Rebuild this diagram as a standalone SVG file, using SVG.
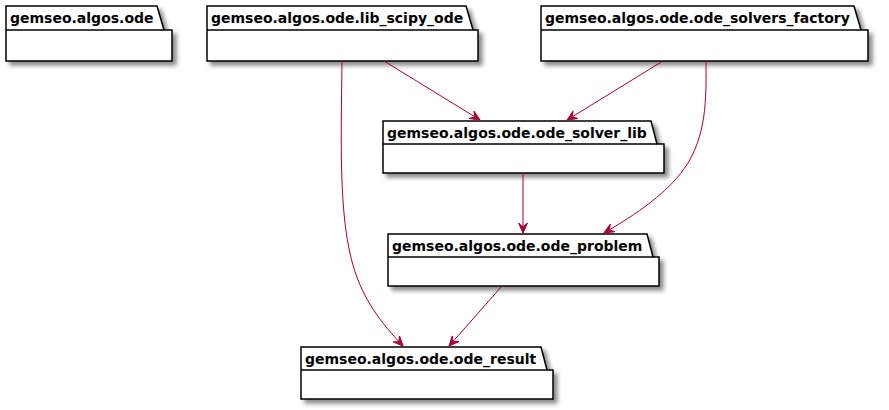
<svg xmlns="http://www.w3.org/2000/svg" width="889" height="410" viewBox="0 0 889 410">
<style>
.pkg{fill:#FFFFFF;stroke:#000000;stroke-width:1.5}
.tab{fill:none;stroke:#000000;stroke-width:1.5}
.lbl{font-family:"DejaVu Sans",sans-serif;font-weight:bold;font-size:14px;fill:#000000}
.edge{fill:none;stroke:#A80036;stroke-width:1;marker-end:url(#arr)}
</style>
<defs>
<filter id="sh" x="-10%" y="-10%" width="130%" height="150%">
<feGaussianBlur in="SourceAlpha" stdDeviation="2"/>
<feOffset dx="4" dy="4" result="b"/>
<feComponentTransfer><feFuncA type="linear" slope="0.45"/></feComponentTransfer>
<feMerge><feMergeNode/><feMergeNode in="SourceGraphic"/></feMerge>
</filter>
<marker id="arr" markerUnits="userSpaceOnUse" markerWidth="12" markerHeight="12" viewBox="-10 -6 12 12" refX="0" refY="0" orient="auto">
<path d="M0,0 L-10,-4.5 L-6,0 L-10,4.5 Z" fill="#A80036" stroke="#A80036" stroke-width="1"/>
</marker>
</defs>
<g id="pkg_ode">
<path class="pkg" filter="url(#sh)" d="M6,6 L157,6 L164,30 L172,30 L172,61 L6,61 Z"/>
<path class="tab" d="M6,30 L164,30"/>
<text class="lbl" x="10" y="23">gemseo.algos.ode</text>
</g>
<g id="pkg_lib_scipy_ode">
<path class="pkg" filter="url(#sh)" d="M207,6 L466,6 L473,30 L478,30 L478,61 L207,61 Z"/>
<path class="tab" d="M207,30 L473,30"/>
<text class="lbl" x="211" y="23">gemseo.algos.ode.lib_scipy_ode</text>
</g>
<g id="pkg_ode_solvers_factory">
<path class="pkg" filter="url(#sh)" d="M541,6 L854,6 L861,30 L868,30 L868,61 L541,61 Z"/>
<path class="tab" d="M541,30 L861,30"/>
<text class="lbl" x="545" y="23">gemseo.algos.ode.ode_solvers_factory</text>
</g>
<g id="pkg_ode_solver_lib">
<path class="pkg" filter="url(#sh)" d="M383,121 L651,121 L657,144 L664,144 L664,173 L383,173 Z"/>
<path class="tab" d="M383,144 L657,144"/>
<text class="lbl" x="387" y="138">gemseo.algos.ode.ode_solver_lib</text>
</g>
<g id="pkg_ode_problem">
<path class="pkg" filter="url(#sh)" d="M388,234 L647,234 L653,257 L659,257 L659,286 L388,286 Z"/>
<path class="tab" d="M388,257 L653,257"/>
<text class="lbl" x="392" y="251">gemseo.algos.ode.ode_problem</text>
</g>
<g id="pkg_ode_result">
<path class="pkg" filter="url(#sh)" d="M301,347 L541,347 L547,370 L553,370 L553,399 L301,399 Z"/>
<path class="tab" d="M301,370 L547,370"/>
<text class="lbl" x="305" y="364">gemseo.algos.ode.ode_result</text>
</g>
<g id="connectors">
<path class="edge" d="M384,61 L480,120"/>
<path class="edge" d="M663,61 L567,120"/>
<path class="edge" d="M523,173 L523,233"/>
<path class="edge" d="M502,286 L449,346"/>
<path class="edge" d="M706,61 C706,90 708,130 688,163 C670,192 635,215 604,233"/>
<path class="edge" d="M342,61 C341,150 338,230 358,280 C370,310 388,330 403,346"/>
</g>
</svg>
